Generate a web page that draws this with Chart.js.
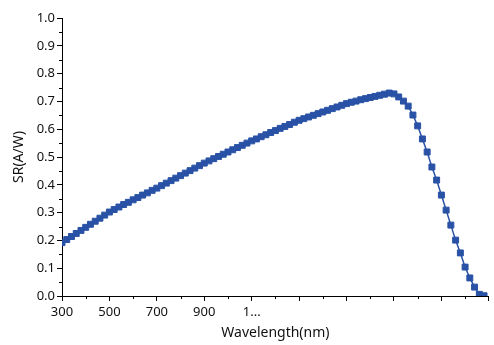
<!DOCTYPE html>
<html>
<head>
<meta charset="utf-8">
<script src="https://cdn.jsdelivr.net/npm/chart.js@4/dist/chart.umd.min.js"></script>
<style>
  html, body { margin: 0; padding: 0; background: #fff; }
  #wrap { width: 494px; height: 345px; }
</style>
</head>
<body>
<div id="wrap"><canvas id="c" width="494" height="345"></canvas></div>
<script>
// wavelength in nm, 20 nm step
const wavelengths = [
  300, 320, 340, 360, 380, 400, 420, 440, 460, 480,
  500, 520, 540, 560, 580, 600, 620, 640, 660, 680,
  700, 720, 740, 760, 780, 800, 820, 840, 860, 880,
  900, 920, 940, 960, 980, 1000, 1020, 1040, 1060, 1080,
  1100, 1120, 1140, 1160, 1180, 1200, 1220, 1240, 1260, 1280,
  1300, 1320, 1340, 1360, 1380, 1400, 1420, 1440, 1460, 1480,
  1500, 1520, 1540, 1560, 1580, 1600, 1620, 1640, 1660, 1680,
  1700, 1720, 1740, 1760, 1780, 1800, 1820, 1840, 1860, 1880,
  1900, 1920, 1940, 1960, 1980, 2000, 2020, 2040, 2060, 2080
];
// spectral response SR (A/W)
const srValues = [
  0.192, 0.203, 0.214, 0.225, 0.236, 0.247, 0.258, 0.269, 0.280, 0.291,
  0.302, 0.311, 0.320, 0.329, 0.337, 0.346, 0.354, 0.363, 0.371, 0.380,
  0.388, 0.397, 0.406, 0.415, 0.424, 0.433, 0.442, 0.451, 0.460, 0.469,
  0.478, 0.486, 0.494, 0.502, 0.510, 0.518, 0.526, 0.534, 0.542, 0.550,
  0.558, 0.565, 0.573, 0.580, 0.588, 0.595, 0.603, 0.610, 0.617, 0.625,
  0.632, 0.638, 0.644, 0.650, 0.656, 0.662, 0.668, 0.674, 0.680, 0.686,
  0.692, 0.697, 0.701, 0.706, 0.710, 0.714, 0.718, 0.722, 0.726, 0.730,
  0.727, 0.716, 0.701, 0.683, 0.651, 0.612, 0.565, 0.518, 0.464, 0.417,
  0.363, 0.309, 0.255, 0.201, 0.155, 0.104, 0.065, 0.032, 0.006, 0.001
];
const xTickLabels = { 300: '300', 500: '500', 700: '700', 900: '900', 1100: '1...' };

const BLUE = '#2952a6';
const FONT = '"Noto Sans", "Open Sans", sans-serif';

// small minor ticks between the major ones
const minorTicks = {
  id: 'minorTicks',
  afterDraw(chart) {
    const ctx = chart.ctx;
    const x = chart.scales.x, y = chart.scales.y;
    ctx.save();
    ctx.strokeStyle = '#000';
    ctx.lineWidth = 1;
    ctx.beginPath();
    for (let v = 400; v < 2100; v += 200) {
      const px = Math.round(x.getPixelForValue(v)) + 0.5;
      ctx.moveTo(px, y.bottom);
      ctx.lineTo(px, y.bottom + 3);
    }
    for (let v = 0.05; v < 1; v += 0.1) {
      const py = Math.round(y.getPixelForValue(v)) + 0.5;
      ctx.moveTo(x.left, py);
      ctx.lineTo(x.left - 3, py);
    }
    ctx.stroke();
    ctx.restore();
  }
};

new Chart(document.getElementById('c'), {
  type: 'line',
  data: {
    datasets: [{
      data: wavelengths.map((w, i) => ({ x: w, y: srValues[i] })),
      borderColor: BLUE,
      backgroundColor: BLUE,
      borderWidth: 1.5,
      pointStyle: 'rect',
      pointRadius: 4.2,
      pointBorderWidth: 1,
      pointBorderColor: BLUE,
      pointBackgroundColor: BLUE,
      tension: 0
    }]
  },
  options: {
    responsive: false,
    animation: false,
    layout: { padding: { top: 18, right: 0, left: 0, bottom: 0 } },
    plugins: { legend: { display: false }, tooltip: { enabled: false } },
    scales: {
      x: {
        type: 'linear',
        min: 300,
        max: 2100,
        afterFit: s => { s.height = 49; },
        border: { color: '#000', width: 1 },
        grid: { drawOnChartArea: false, tickLength: 5, tickColor: '#000' },
        ticks: {
          stepSize: 200,
          autoSkip: false,
          maxRotation: 0,
          padding: 3,
          color: '#111',
          font: { family: FONT, size: 13 },
          callback: v => xTickLabels[v] || ''
        },
        title: {
          display: true,
          text: 'Wavelength(nm)',
          color: '#111',
          font: { family: FONT, size: 14 },
          padding: { top: 9 }
        }
      },
      y: {
        min: 0,
        max: 1,
        afterFit: s => { s.width = 62; },
        border: { color: '#000', width: 1 },
        grid: { drawOnChartArea: false, tickLength: 5, tickColor: '#000' },
        ticks: {
          stepSize: 0.1,
          padding: 2,
          color: '#111',
          font: { family: FONT, size: 13 },
          callback: v => v.toFixed(1)
        },
        title: {
          display: true,
          text: 'SR(A/W)',
          color: '#111',
          font: { family: FONT, size: 14 },
          padding: { top: 11, bottom: 4 }
        }
      }
    }
  },
  plugins: [minorTicks]
});
</script>
</body>
</html>
